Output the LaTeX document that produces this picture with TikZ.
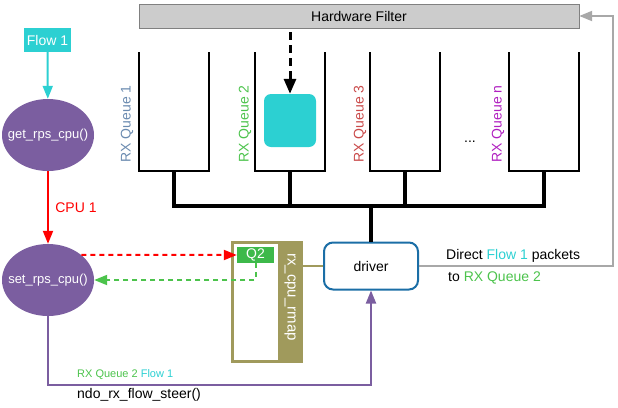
\documentclass[tikz,border=0pt]{standalone}
\usepackage{fontspec}
\setmainfont{Liberation Sans}
\usetikzlibrary{arrows.meta,shapes.geometric}
\definecolor{fnpurple}{HTML}{7B5EA0}
\definecolor{flowcyan}{HTML}{2CD0D2}
\definecolor{qgreen}{HTML}{3DB94A}
\definecolor{lgreen}{HTML}{4CC34C}
\definecolor{rmapolive}{HTML}{A09A5C}
\definecolor{drvblue}{HTML}{1B6EA6}
\definecolor{hwgray}{HTML}{CCCCCC}
\definecolor{q1col}{HTML}{6B8BB0}
\definecolor{q3col}{HTML}{C94A4A}
\definecolor{qncol}{HTML}{B020C0}
\definecolor{linegray}{HTML}{A8A8A8}
\newcommand{\fnlabel}[1]{\makebox[0pt]{#1}}

\begin{document}
\begin{tikzpicture}[x=1pt,y=-1pt,font=\fontsize{14}{16}\selectfont,
    func/.style={ellipse,fill=fnpurple,text=white,minimum width=92pt,minimum height=72pt,inner sep=0pt,font=\fontsize{13}{15}\selectfont},
    qlabel/.style={rotate=90,inner sep=0pt},
    tip/.style={-{Triangle[length=13pt,width=10pt]}}]
    \useasboundingbox(0,0)rectangle(618,407);

    \node[draw=gray,fill=hwgray,minimum width=440pt,minimum height=24pt,inner sep=0pt](hw)at(359,16){Hardware Filter};

    % queues and bus
    \foreach \x in {139,255,370,509}{
      \draw[line width=2pt](\x,52)--(\x,171)--(\x+70,171)--(\x+70,52);
      \draw[line width=4pt](\x+35,171)--(\x+35,206);
    }
    \draw[line width=4pt](172,206)--(546,206);
    \node[qlabel,text=q1col](q1)at(127,124){RX Queue 1};
    \node[qlabel,text=lgreen](q2l)at(245,124){RX Queue 2};
    \node[qlabel,text=q3col](q3)at(360,124){RX Queue 3};
    \node[qlabel,text=qncol](qn)at(498,124){RX Queue n};
    \node(dots)at(470,142){...};

    \node[fill=flowcyan,rounded corners=7pt,minimum width=52pt,minimum height=53pt](pkt)at(290,120.5){};
    \coordinate(drop)at(290,32);
    \draw[line width=3pt,dash pattern=on 8pt off 5pt,-{Triangle[length=15pt,width=12pt]}](drop)--(pkt.north);

    % left column
    \node[fill=flowcyan,text=white,minimum width=47pt,minimum height=24pt,inner sep=0pt](flow)at(47.5,40){Flow 1};
    \node[func](get)at(48,135){\fnlabel{get\_rps\_cpu()}};
    \node[func](set)at(48,280){\fnlabel{set\_rps\_cpu()}};
    \draw[flowcyan,line width=2pt,tip](flow)--(get);
    \draw[red,line width=2pt,tip](get)--(set)node[midway,right,text=red,xshift=3pt]{CPU 1};

    % rx_cpu_rmap
    \node[draw=rmapolive,fill=rmapolive,line width=1.5pt,minimum width=70pt,minimum height=120pt,inner sep=0pt](rmap)at(267,302){};
    \fill[white](234,244)rectangle(278,360);
    \node[rotate=-90,text=white,font=\fontsize{15}{17}\selectfont](rlabel)at(290,297){rx\_cpu\_rmap};
    \node[fill=qgreen,text=white,minimum width=37pt,minimum height=16pt,inner sep=0pt](q2)at(255.5,255){Q2};

    \draw[red,line width=2pt,dash pattern=on 5pt off 4pt,tip](set.37)--(q2.west);
    \draw[lgreen,line width=2pt,dash pattern=on 5pt off 4pt,tip](q2.south)|-(set.east);

    % driver
    \node[draw=drvblue,line width=2pt,rounded corners=9pt,minimum width=94pt,minimum height=47pt](driver)at(371,266){driver};
    \draw[line width=4pt](driver.north)--(driver.north|-0,206);
    \draw[rmapolive,line width=1.5pt](rmap.east|-driver.west)--(driver.west);

    \coordinate(ret)at(613,16);
    \draw[linegray,line width=2pt,tip](driver.east)-|(ret)--(hw.east);
    \node[anchor=west,align=left,inner sep=0pt,font=\fontsize{14}{22}\selectfont](dir)at(446,267){Direct \textcolor{flowcyan}{Flow 1} packets\\[0pt]\hspace{2pt}to \textcolor{lgreen}{RX Queue 2}};

    \coordinate(low)at(0,385);
    \draw[fnpurple,line width=2pt,tip](set.south)|-(low-|driver.south)--(driver.south);
    \node[anchor=west,inner sep=0pt,font=\fontsize{11}{13}\selectfont](steerinfo)at(77,375){\textcolor{lgreen}{RX Queue 2} \textcolor{flowcyan}{Flow 1}};
    \node[anchor=west,inner sep=0pt](steer)at(77,395){ndo\_rx\_flow\_steer()};
\end{tikzpicture}
\end{document}
